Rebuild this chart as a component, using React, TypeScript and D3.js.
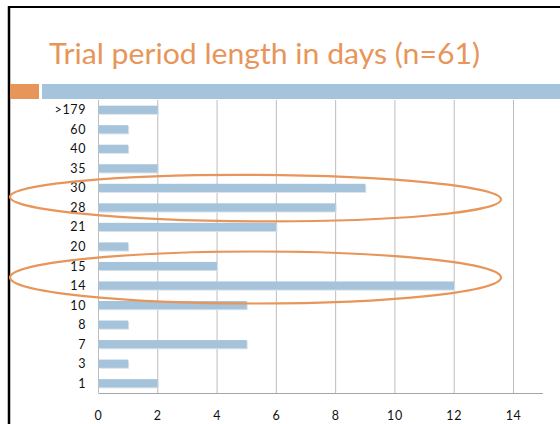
import React from "react";
import * as d3 from "d3";

const categories = [">179", "60", "40", "35", "30", "28", "21", "20", "15", "14", "10", "8", "7", "3", "1"];
const counts = [2, 1, 1, 2, 9, 8, 6, 1, 4, 12, 5, 1, 5, 1, 2];
const xTicks = [0, 2, 4, 6, 8, 10, 12, 14];
const titleText = "Trial period length in days (n=61)";
const highlightGroups = [["30", "28"], ["15", "14"]];

const W = 560;
const H = 424;
const orange = "#E8955A";
const blue = "#A5C3DA";
const labelFont = "Lato, 'DejaVu Sans', sans-serif";

export default function App() {
  const x = d3.scaleLinear().domain([0, 14]).range([98.5, 513.5]);
  const y = d3.scaleBand<string>().domain(categories).range([100, 393]).paddingInner(0.58).paddingOuter(0.29);
  const bw = y.bandwidth();
  const step = y.step();

  return (
    <svg width={W} height={H} style={{ position: "absolute", left: 0, top: 0, background: "#fff" }}>
      <rect x={0} y={0} width={W} height={H} fill="#fff" />
      {/* slide border */}
      <line x1={9} y1={6} x2={9} y2={H} stroke="#000" strokeWidth={2.5} />
      <line x1={8} y1={7} x2={W} y2={7} stroke="#000" strokeWidth={2} />
      {/* title */}
      <text x={49} y={64} fill={orange} fontFamily="Lato, 'DejaVu Sans', sans-serif" fontSize={29}
        textLength={431} lengthAdjust="spacingAndGlyphs">{titleText}</text>
      {/* decorative bars */}
      <rect x={10} y={84} width={29} height={15} fill={orange} />
      <rect x={42} y={84} width={W - 42} height={15} fill={blue} />
      {/* gridlines */}
      {xTicks.map((t) => (
        <line key={"g" + t} x1={x(t)} x2={x(t)} y1={100} y2={393} stroke="#BDBDBD" strokeWidth={1} />
      ))}
      <line x1={x(0)} x2={543} y1={393.5} y2={393.5} stroke="#A6A6A6" strokeWidth={1} />
      {/* bars */}
      {categories.map((c, i) => (
        <g key={c}>
          <rect x={x(0) + 1} y={(y(c) as number) + 1} width={x(counts[i]) - x(0)} height={bw} fill="#D9E4EC" />
          <rect x={x(0)} y={y(c) as number} width={x(counts[i]) - x(0)} height={bw} fill={blue} />
        </g>
      ))}
      {/* category labels */}
      {categories.map((c) => (
        <text key={"l" + c} x={86} y={(y(c) as number) + bw / 2 + 4.5} textAnchor="end"
          fontFamily={labelFont} fontSize={12.5} letterSpacing={0.6} fill="#111">{c}</text>
      ))}
      {/* x tick labels */}
      {xTicks.map((t) => (
        <text key={"t" + t} x={x(t)} y={420} textAnchor="middle"
          fontFamily={labelFont} fontSize={12.5} letterSpacing={0.6} fill="#111">{t}</text>
      ))}
      {/* highlight ellipses */}
      {highlightGroups.map((g, i) => {
        const y0 = y(g[0]) as number;
        const y1 = (y(g[1]) as number) + bw;
        const cy = (y0 + y1) / 2 + (i === 0 ? 0.5 : 1.7);
        const ry = (y1 - y0) / 2 + step * (i === 0 ? 0.48 : 0.62);
        const left = 10;
        const right = 501;
        return (
          <ellipse key={"e" + i} cx={(left + right) / 2} cy={cy} rx={(right - left) / 2} ry={ry}
            fill="none" stroke={orange} strokeWidth={2.2}
            transform={i === 0 ? `rotate(0.3 ${(left + right) / 2} ${cy})` : undefined} />
        );
      })}
    </svg>
  );
}
